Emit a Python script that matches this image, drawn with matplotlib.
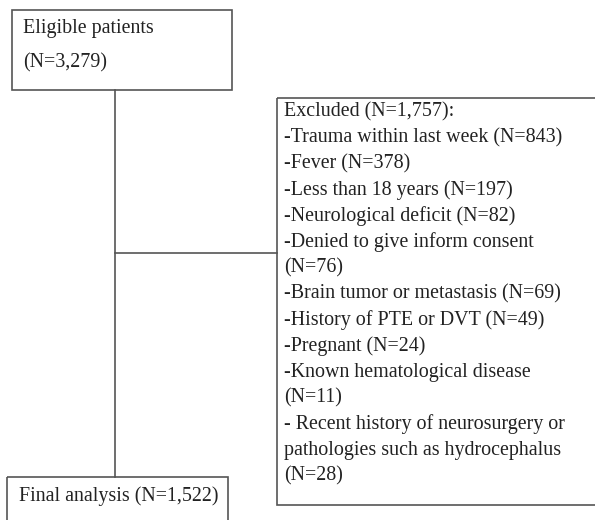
import matplotlib
matplotlib.use("Agg")
import matplotlib.pyplot as plt
from matplotlib.patches import Rectangle

# ---- data ----
top_lines = ["Eligible patients", "(N=3,279)"]
excluded_lines = [
    "Excluded (N=1,757):",
    "-Trauma within last week (N=843)",
    "-Fever (N=378)",
    "-Less than 18 years (N=197)",
    "-Neurological deficit (N=82)",
    "-Denied to give inform consent",
    "(N=76)",
    "-Brain tumor or metastasis (N=69)",
    "-History of PTE or DVT (N=49)",
    "-Pregnant (N=24)",
    "-Known hematological disease",
    "(N=11)",
    "- Recent history of neurosurgery or",
    "pathologies such as hydrocephalus",
    "(N=28)",
]
final_lines = ["Final analysis (N=1,522)"]

W, H = 595, 520
fig = plt.figure(figsize=(W / 100, H / 100), dpi=100)
ax = fig.add_axes([0, 0, 1, 1])
ax.set_xlim(0, W)
ax.set_ylim(H, 0)
ax.axis("off")

line_col = "#555555"
txt_col = "#222222"
fs = 14.4
font = dict(family="Liberation Serif", fontsize=fs, color=txt_col)

# boxes
ax.add_patch(Rectangle((12, 9.5), 219.5, 80, fill=False, ec=line_col, lw=1.2))
ax.add_patch(Rectangle((277, 97.5), 330, 407, fill=False, ec=line_col, lw=1.2, clip_on=True))
ax.add_patch(Rectangle((7, 476.5), 220.5, 60, fill=False, ec=line_col, lw=1.2, clip_on=True))

# connectors
ax.plot([115, 115], [89.5, 476.5], color=line_col, lw=1.2)
ax.plot([115, 277], [253, 253], color=line_col, lw=1.2)

# texts
for i, t in enumerate(top_lines):
    ax.text(23, 28 + i * 35, t, va="center", ha="left", **font)
for i, t in enumerate(excluded_lines):
    ax.text(284, 112 + i * 26, t, va="center", ha="left", **font)
for i, t in enumerate(final_lines):
    ax.text(19, 496, t, va="center", ha="left", **font)

fig.savefig("out.png", dpi=100)
